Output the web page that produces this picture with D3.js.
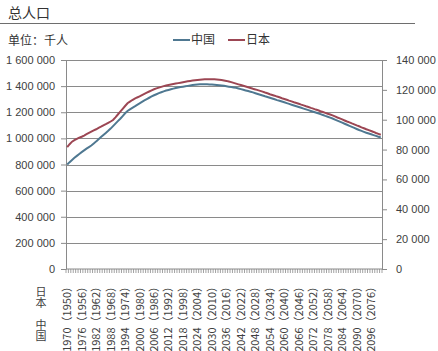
<!DOCTYPE html>
<html>

<head>
    <meta charset="utf-8">
    <title>总人口</title>
    <style>
        body {
            margin: 0;
            background: #fff;
        }

        svg {
            font-family: 'Noto Sans CJK SC', 'Noto Sans', sans-serif;
            display: block;
        }

        .domain {
            stroke: #8a8a8a;
        }

        g.tick line {
            stroke: #8a8a8a;
        }

        g.tick text {
            fill: #404040;
            font-size: 11px;
        }

        .rowcap {
            writing-mode: vertical-rl;
            text-orientation: upright;
        }
    </style>
</head>

<body>
    <figure style="margin:0"></figure>

    <script src="https://d3js.org/d3.v7.min.js"></script>

    <script>

        ////////////////////////////////////
        ///////////// Data /////////////////
        ////////////////////////////////////

        // x categories: China years 1970-2100, Japan shown 20 years earlier (1950-2080)
        const chinaYears = d3.range(1970, 2101)
        const japanOffset = 20

        // population, thousands (left axis)
        const chinaPop = [
            800000, 818000, 835000, 851000, 866000, 881000, 895000, 908000, 921000, 933000,
            945000, 960000, 977000, 993000, 1010000, 1026000, 1042000, 1058000, 1075000, 1094000,
            1113000, 1132000, 1150000, 1171000, 1192000, 1210000, 1222000, 1234000, 1245000, 1257000,
            1268000, 1280000, 1291000, 1301000, 1311000, 1321000, 1330000, 1338000, 1346000, 1353000,
            1360000, 1366000, 1371000, 1376000, 1381000, 1386000, 1390000, 1393000, 1396000, 1399000,
            1402000, 1405000, 1408000, 1411000, 1413000, 1414000, 1414000, 1414000, 1414000, 1413000,
            1412000, 1410000, 1408000, 1406000, 1404000, 1402000, 1399000, 1396000, 1393000, 1390000,
            1387000, 1382000, 1377000, 1372000, 1367000, 1362000, 1357000, 1352000, 1346000, 1340000,
            1334000, 1328000, 1322000, 1317000, 1311000, 1305000, 1299000, 1293000, 1288000, 1282000,
            1276000, 1270000, 1264000, 1258000, 1252000, 1246000, 1240000, 1234000, 1228000, 1222000,
            1216000, 1210000, 1204000, 1198000, 1192000, 1186000, 1179000, 1172000, 1166000, 1159000,
            1152000, 1144000, 1136000, 1128000, 1120000, 1112000, 1104000, 1096000, 1088000, 1080000,
            1072000, 1064000, 1057000, 1050000, 1043000, 1037000, 1031000, 1025000, 1019000, 1013000,
            1007000
        ]

        // population, thousands (right axis)
        const japanPop = [
            81700, 83600, 85300, 86300, 87200, 88000, 88600, 89400, 90300, 91200,
            92000, 92800, 93600, 94500, 95300, 96200, 97000, 97900, 98800, 99800,
            101600, 103500, 105400, 107300, 109200, 111000, 112100, 113200, 114100, 114900,
            115600, 116500, 117300, 118100, 118900, 119700, 120400, 121000, 121500, 122000,
            122500, 122900, 123300, 123600, 123900, 124200, 124500, 124800, 125100, 125400,
            125700, 126000, 126200, 126400, 126600, 126800, 127000, 127100, 127100, 127100,
            127100, 127100, 127000, 126800, 126600, 126300, 126000, 125600, 125200, 124700,
            124200, 123700, 123200, 122700, 122200, 121700, 121200, 120700, 120300, 119800,
            119300, 118800, 118200, 117700, 117100, 116600, 116100, 115500, 115000, 114400,
            113900, 113400, 112800, 112300, 111700, 111200, 110700, 110100, 109600, 109000,
            108500, 107900, 107400, 106800, 106300, 105700, 105200, 104600, 104000, 103500,
            102900, 102200, 101500, 100900, 100200, 99500, 98800, 98200, 97500, 96900,
            96200, 95600, 94900, 94300, 93600, 93000, 92400, 91800, 91100, 90500,
            89900
        ]

        const leftTicks = [0, 200000, 400000, 600000, 800000, 1000000, 1200000, 1400000, 1600000]
        const rightTicks = [0, 20000, 40000, 60000, 80000, 100000, 120000, 140000]

        const seriesNames = ['中国', '日本']
        const seriesColors = ['#4f7891', '#9c4653']

        ////////////////////////////////////
        ///////////// SVG Setup ////////////
        ////////////////////////////////////

        const svgWidth = 438
        const svgHeight = 351

        const margin = { left: 66, right: 56, top: 60, bottom: 82 }
        const width = svgWidth - margin.left - margin.right
        const height = svgHeight - margin.top - margin.bottom

        const svg = d3.select('figure')
            .append('svg')
            .attr('width', svgWidth)
            .attr('height', svgHeight)

        // title + rule
        svg.append('text')
            .attr('x', 8)
            .attr('y', 18)
            .style('font-size', '14px')
            .style('fill', '#333')
            .text('总人口')

        svg.append('line')
            .attr('x1', 0).attr('x2', 415)
            .attr('y1', 23.5).attr('y2', 23.5)
            .style('stroke', '#6e6e6e')

        svg.append('text')
            .attr('x', 8)
            .attr('y', 44.5)
            .style('font-size', '12px')
            .style('fill', '#333')
            .text('单位：千人')

        // legend
        const legend = svg.append('g')
            .selectAll('g')
            .data(seriesNames)
            .join('g')
            .attr('transform', (d, i) => `translate(${173 + i * 55},40)`)

        legend.append('line')
            .attr('x1', 0).attr('x2', 17)
            .style('stroke', (d, i) => seriesColors[i])
            .style('stroke-width', 2)

        legend.append('text')
            .attr('x', 18)
            .attr('dy', '0.36em')
            .style('font-size', '12px')
            .style('fill', '#333')
            .text(d => d)

        const g = svg.append('g')
            .attr('transform', `translate(${margin.left},${margin.top})`)

        ////////////////////////////////////
        /////////////// Scales /////////////
        ////////////////////////////////////

        const xScale = d3.scaleBand()
            .domain(chinaYears)
            .range([0, width])

        const yLeft = d3.scaleLinear()
            .domain([0, 1600000])
            .range([height, 0])

        const yRight = d3.scaleLinear()
            .domain([0, 140000])
            .range([height, 0])

        const fmt = d3.formatLocale({ decimal: '.', thousands: ' ', grouping: [3], currency: ['', ''] }).format(',d')

        // gridlines
        g.append('g')
            .selectAll('line')
            .data(leftTicks.slice(1))
            .join('line')
            .attr('x1', 0).attr('x2', width)
            .attr('y1', d => Math.round(yLeft(d)) + 0.5)
            .attr('y2', d => Math.round(yLeft(d)) + 0.5)
            .style('stroke', '#8a8a8a')

        g.append('g')
            .call(d3.axisLeft(yLeft).tickValues(leftTicks).tickFormat(fmt).tickSize(5).tickSizeOuter(0).tickPadding(6))

        g.append('g')
            .attr('transform', `translate(${width},0)`)
            .call(d3.axisRight(yRight).tickValues(rightTicks).tickFormat(fmt).tickSize(5).tickSizeOuter(0).tickPadding(9))

        // bottom axis with a tick at every category boundary
        const xAxis = g.append('g')
            .attr('transform', `translate(0,${height})`)

        xAxis.append('line')
            .attr('x1', 0).attr('x2', width)
            .style('stroke', '#8a8a8a')

        xAxis.selectAll('line.cat')
            .data(chinaYears.concat(['end']))
            .join('line')
            .attr('class', 'cat')
            .attr('x1', d => d === 'end' ? width : xScale(d))
            .attr('x2', d => d === 'end' ? width : xScale(d))
            .attr('y1', 0).attr('y2', 4)
            .style('stroke', '#8a8a8a')
            .style('stroke-width', 0.8)

        xAxis.selectAll('text.lab')
            .data(chinaYears.filter((d, i) => i % 6 === 0))
            .join('text')
            .attr('class', 'lab')
            .attr('transform', d => `translate(${xScale(d) + xScale.bandwidth() / 2},12) rotate(-90)`)
            .attr('dy', '0.36em')
            .attr('text-anchor', 'end')
            .style('font-size', '11px')
            .style('fill', '#404040')
            .text(d => `${d}（${d - japanOffset}）`)

        // row captions, written top to bottom
        const rows = [['日本', 286], ['中国', 319]]
        svg.append('g')
            .selectAll('text')
            .data(rows)
            .join('text')
            .attr('class', 'rowcap')
            .attr('x', 41)
            .attr('y', d => d[1])
            .style('font-size', '11px')
            .style('letter-spacing', '0.5px')
            .style('fill', '#404040')
            .text(d => d[0])

        ////////////////////////////////////
        /////////////// Draw lines /////////
        ////////////////////////////////////

        const cx = d => xScale(d) + xScale.bandwidth() / 2

        const chinaLine = d3.line()
            .x((d, i) => cx(chinaYears[i]))
            .y(d => yLeft(d))

        const japanLine = d3.line()
            .x((d, i) => cx(chinaYears[i]))
            .y(d => yRight(d))

        g.append('path')
            .datum(chinaPop)
            .attr('d', chinaLine)
            .style('fill', 'none')
            .style('stroke', seriesColors[0])
            .style('stroke-width', 2)

        g.append('path')
            .datum(japanPop)
            .attr('d', japanLine)
            .style('fill', 'none')
            .style('stroke', seriesColors[1])
            .style('stroke-width', 2)

    </script>
</body>

</html>
